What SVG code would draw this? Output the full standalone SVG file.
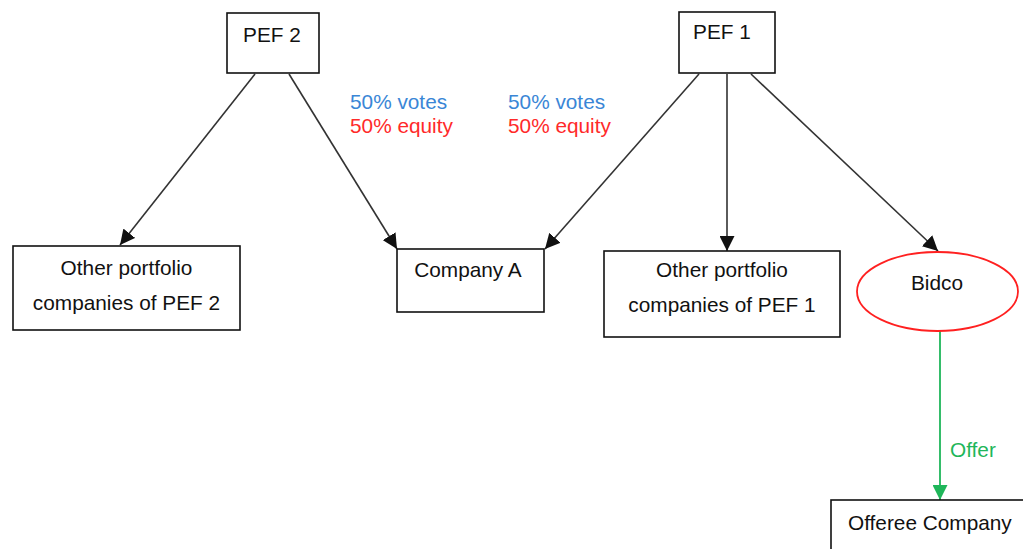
<svg xmlns="http://www.w3.org/2000/svg" width="1023" height="549" viewBox="0 0 1023 549">
<style>
.box{fill:#fff;stroke:#111;stroke-width:1.6}
.t{font-family:"Liberation Sans",Arial,sans-serif;font-size:20.8px;fill:#111}
.c{text-anchor:middle}
.edge{stroke:#333;stroke-width:1.6;fill:none}
.blue{fill:#3a86d6}
.red{fill:#ff2a2a}
.green{fill:#1fb65a}
</style>
<defs>
<marker id="ah" markerUnits="userSpaceOnUse" markerWidth="16" markerHeight="15" refX="15" refY="7.5" orient="auto">
<path d="M0,0 L15,7.5 L0,15 Z" fill="#111"/>
</marker>
<marker id="ahg" markerUnits="userSpaceOnUse" markerWidth="16" markerHeight="15" refX="15" refY="7.5" orient="auto">
<path d="M0,0 L15,7.5 L0,15 Z" fill="#1fb65a"/>
</marker>
</defs>
<rect width="1023" height="549" fill="#fff"/>
<g id="connectors">
<line class="edge" x1="255" y1="74" x2="120" y2="245" marker-end="url(#ah)"/>
<line class="edge" x1="289" y1="74" x2="397" y2="249" marker-end="url(#ah)"/>
<line class="edge" x1="699" y1="74" x2="545" y2="249" marker-end="url(#ah)"/>
<line class="edge" x1="727" y1="74" x2="727" y2="251" marker-end="url(#ah)"/>
<line class="edge" x1="751" y1="74" x2="938" y2="251" marker-end="url(#ah)"/>
<line x1="940" y1="331" x2="940" y2="500" stroke="#1fb65a" stroke-width="1.8" marker-end="url(#ahg)"/>
<text class="t green" x="950" y="457">Offer</text>
</g>
<g id="labels">
<text class="t blue" x="350" y="109">50% votes</text>
<text class="t red" x="350" y="133">50% equity</text>
<text class="t blue" x="508" y="109">50% votes</text>
<text class="t red" x="508" y="133">50% equity</text>
</g>
<g id="pef2">
<rect class="box" x="227" y="13" width="92" height="60"/>
<text class="t c" x="272" y="42">PEF 2</text>
</g>
<g id="pef1">
<rect class="box" x="679" y="12" width="96" height="61"/>
<text class="t c" x="722" y="39">PEF 1</text>
</g>
<g id="other-pef2">
<rect class="box" x="13" y="246" width="227" height="84"/>
<text class="t c" x="126.5" y="275">Other portfolio</text>
<text class="t c" x="126.5" y="310">companies of PEF 2</text>
</g>
<g id="company-a">
<rect class="box" x="397" y="249" width="147" height="63"/>
<text class="t c" x="468" y="277">Company A</text>
</g>
<g id="other-pef1">
<rect class="box" x="604" y="251" width="236" height="86"/>
<text class="t c" x="722" y="277">Other portfolio</text>
<text class="t c" x="722" y="312">companies of PEF 1</text>
</g>
<g id="bidco">
<ellipse cx="937.5" cy="291.5" rx="80.5" ry="39.5" fill="#fff" stroke="#ff2020" stroke-width="1.8"/>
<text class="t c" x="937" y="290">Bidco</text>
</g>
<g id="offeree">
<rect class="box" x="831" y="500" width="200" height="60"/>
<text class="t" x="848" y="530">Offeree Company</text>
</g>
</svg>
